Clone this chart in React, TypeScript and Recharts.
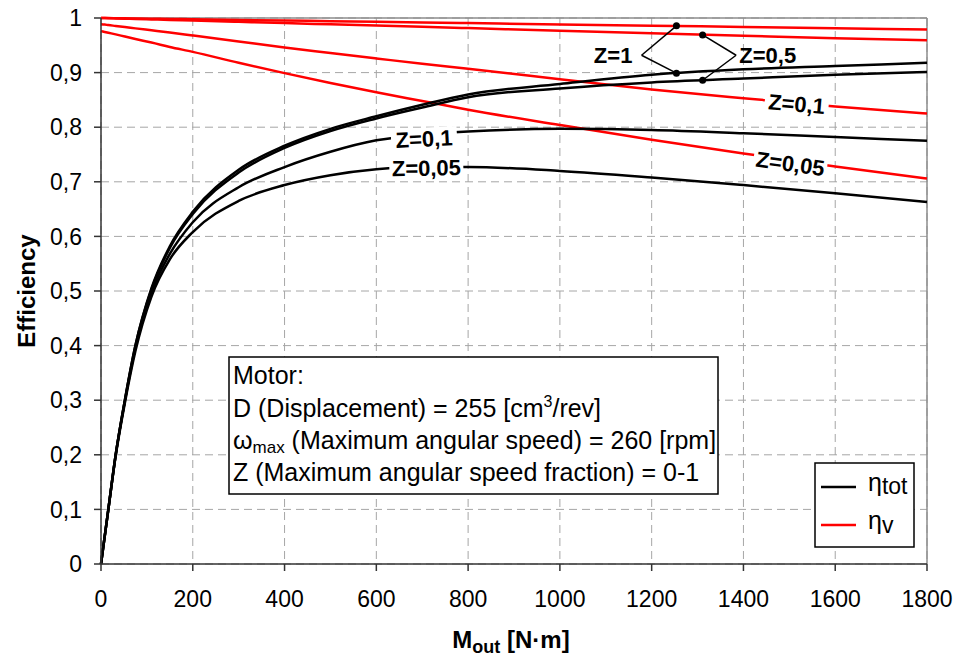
import React from 'react';
import {
  LineChart,
  Line,
  XAxis,
  YAxis,
  CartesianGrid,
  ReferenceLine,
  ReferenceDot,
  Customized
} from 'recharts';

const FONT = '"Liberation Sans", Arial, Helvetica, sans-serif';

// M_out [N·m] sample points
const torque = [0, 8, 16, 32, 52, 75, 110, 150, 200, 300, 400, 500, 600, 700, 800, 1000, 1200, 1400, 1600, 1800];

// eta_tot for each Z
const totZ1 = [0, 0.05, 0.1, 0.2, 0.3, 0.4, 0.505, 0.582, 0.645, 0.722, 0.766, 0.797, 0.82, 0.841, 0.86, 0.879, 0.896, 0.906, 0.912, 0.918];
const totZ05 = [0, 0.05, 0.1, 0.2, 0.3, 0.4, 0.503, 0.579, 0.641, 0.717, 0.762, 0.793, 0.816, 0.836, 0.855, 0.871, 0.882, 0.889, 0.896, 0.901];
const totZ01 = [0, 0.05, 0.1, 0.2, 0.298, 0.396, 0.497, 0.568, 0.626, 0.69, 0.727, 0.755, 0.776, 0.786, 0.792, 0.797, 0.795, 0.789, 0.782, 0.775];
const totZ005 = [0, 0.05, 0.1, 0.198, 0.295, 0.39, 0.49, 0.558, 0.608, 0.665, 0.694, 0.712, 0.723, 0.727, 0.727, 0.72, 0.708, 0.694, 0.679, 0.663];

// eta_v for each Z
const volZ1 = [1.0, 1.0, 0.9998, 0.9996, 0.9994, 0.9991, 0.9987, 0.9982, 0.9977, 0.9965, 0.9953, 0.9942, 0.993, 0.9918, 0.9907, 0.9883, 0.986, 0.9837, 0.9813, 0.979];
const volZ05 = [1.0, 0.9998, 0.9996, 0.9993, 0.9988, 0.9983, 0.9974, 0.9965, 0.9954, 0.993, 0.9907, 0.9884, 0.9861, 0.9838, 0.9815, 0.9768, 0.9722, 0.9676, 0.963, 0.9592];
const volZ01 = [0.9885, 0.988, 0.987, 0.9855, 0.9835, 0.981, 0.9775, 0.9735, 0.968, 0.957, 0.946, 0.936, 0.926, 0.916, 0.907, 0.888, 0.869, 0.853, 0.838, 0.825];
const volZ005 = [0.976, 0.9745, 0.973, 0.97, 0.966, 0.9615, 0.955, 0.947, 0.938, 0.918, 0.899, 0.881, 0.864, 0.848, 0.832, 0.804, 0.777, 0.752, 0.728, 0.706];

const xTicks = [0, 200, 400, 600, 800, 1000, 1200, 1400, 1600, 1800];
const yTicks = [0, 0.1, 0.2, 0.3, 0.4, 0.5, 0.6, 0.7, 0.8, 0.9, 1];

const chartData = torque.map((m, i) => ({
  m,
  totZ1: totZ1[i],
  totZ05: totZ05[i],
  totZ01: totZ01[i],
  totZ005: totZ005[i],
  volZ1: volZ1[i],
  volZ05: volZ05[i],
  volZ01: volZ01[i],
  volZ005: volZ005[i]
}));

// text label on a curve, white box behind it so the line looks broken
const CurveLabel = ({ cx, cy, text, angle = 0, w = 64, boxed = true, anchor = 'middle' }: any) => (
  <g transform={`translate(${cx},${cy}) rotate(${angle})`}>
    {boxed && <rect x={-w / 2} y={-11} width={w} height={22} fill="#fff" />}
    <text
      x={0}
      y={0}
      dy="0.36em"
      textAnchor={anchor}
      fontFamily={FONT}
      fontWeight="bold"
      fontSize={22}
      fill="#000"
    >
      {text}
    </text>
  </g>
);

const MotorBox = () => (
  <g fontFamily={FONT} fontSize={25} fill="#000">
    <rect x={229} y={357} width={489} height={137} fill="#fff" stroke="#000" strokeWidth={1.5} />
    <text x={233} y={384}>Motor:</text>
    <text x={233} y={417}>
      {'D (Displacement) = 255 [cm'}
      <tspan fontSize={16} dy={-10}>3</tspan>
      <tspan dy={10}>{'/rev]'}</tspan>
    </text>
    <text x={233} y={449}>
      {'ω'}
      <tspan fontSize={17} dy={4}>max</tspan>
      <tspan dy={-4}>{' (Maximum angular speed) = 260 [rpm]'}</tspan>
    </text>
    <text x={233} y={481}>Z (Maximum angular speed fraction) = 0-1</text>
  </g>
);

const LegendBox = () => (
  <g fontFamily={FONT} fill="#000">
    <rect x={815} y={463} width={99} height={84} fill="#fff" stroke="#000" strokeWidth={1.5} />
    <line x1={821} x2={856} y1={487} y2={487} stroke="#000" strokeWidth={2.5} />
    <line x1={821} x2={856} y1={525} y2={525} stroke="#ff0000" strokeWidth={2.5} />
    <text x={868} y={491} fontSize={25}>
      {'η'}
      <tspan fontSize={23} dy={3}>tot</tspan>
    </text>
    <text x={868} y={529} fontSize={25}>
      {'η'}
      <tspan fontSize={23} dy={4}>v</tspan>
    </text>
  </g>
);

const yTitle = () => (
  <text
    x={35}
    y={291}
    transform="rotate(-90 35 291)"
    textAnchor="middle"
    fontFamily={FONT}
    fontWeight="bold"
    fontSize={24}
    fill="#000"
  >
    Efficiency
  </text>
);

const xTitle = () => (
  <text x={511} y={648} textAnchor="middle" fontFamily={FONT} fontWeight="bold" fontSize={24} fill="#000">
    M
    <tspan fontSize={18} dy={5}>out</tspan>
    <tspan dy={-5}>{' [N·m]'}</tspan>
  </text>
);

const tickStyle = { fill: '#000', fontSize: 23, fontFamily: FONT };

export default function App() {
  return (
    <div style={{ position: 'absolute', left: 0, top: 0, background: '#fff' }}>
      <LineChart width={959} height={664} data={chartData} margin={{ top: 18, right: 32, left: 0, bottom: 0 }}>
        <CartesianGrid strokeDasharray="8 5" stroke="#a6a6a6" strokeWidth={1} />
        <XAxis
          type="number"
          dataKey="m"
          domain={[0, 1800]}
          ticks={xTicks}
          interval={0}
          tickSize={7}
          tickMargin={20}
          height={100}
          stroke="#333"
          strokeWidth={1.5}
          tick={tickStyle}
          label={xTitle}
        />
        <YAxis
          type="number"
          domain={[0, 1]}
          ticks={yTicks}
          interval={0}
          tickSize={7}
          tickMargin={12}
          width={101}
          stroke="#333"
          strokeWidth={1.5}
          tick={tickStyle}
          tickFormatter={(v: number) => String(v).replace('.', ',')}
          label={yTitle}
        />
        <ReferenceLine y={1} stroke="#8c8c8c" strokeWidth={1.5} />
        <ReferenceLine x={1800} stroke="#8c8c8c" strokeWidth={1.5} />

        <Line type="monotone" dataKey="volZ1" stroke="#ff0000" strokeWidth={2.5} dot={false} activeDot={false} isAnimationActive={false} />
        <Line type="monotone" dataKey="volZ05" stroke="#ff0000" strokeWidth={2.5} dot={false} activeDot={false} isAnimationActive={false} />
        <Line type="monotone" dataKey="volZ01" stroke="#ff0000" strokeWidth={2.5} dot={false} activeDot={false} isAnimationActive={false} />
        <Line type="monotone" dataKey="volZ005" stroke="#ff0000" strokeWidth={2.5} dot={false} activeDot={false} isAnimationActive={false} />
        <Line type="monotone" dataKey="totZ1" stroke="#000" strokeWidth={2.5} dot={false} activeDot={false} isAnimationActive={false} />
        <Line type="monotone" dataKey="totZ05" stroke="#000" strokeWidth={2.5} dot={false} activeDot={false} isAnimationActive={false} />
        <Line type="monotone" dataKey="totZ01" stroke="#000" strokeWidth={2.5} dot={false} activeDot={false} isAnimationActive={false} />
        <Line type="monotone" dataKey="totZ005" stroke="#000" strokeWidth={2.5} dot={false} activeDot={false} isAnimationActive={false} />

        {/* Z=1 / Z=0,5 callouts */}
        <ReferenceLine segment={[{ x: 1178, y: 0.9318 }, { x: 1254, y: 0.9857 }]} stroke="#000" strokeWidth={1.5} />
        <ReferenceLine segment={[{ x: 1178, y: 0.9318 }, { x: 1254, y: 0.899 }]} stroke="#000" strokeWidth={1.5} />
        <ReferenceLine segment={[{ x: 1384, y: 0.9318 }, { x: 1311, y: 0.969 }]} stroke="#000" strokeWidth={1.5} />
        <ReferenceLine segment={[{ x: 1384, y: 0.9318 }, { x: 1311, y: 0.886 }]} stroke="#000" strokeWidth={1.5} />
        <ReferenceDot x={1254} y={0.9857} r={3.5} fill="#000" stroke="none" />
        <ReferenceDot x={1254} y={0.899} r={3.5} fill="#000" stroke="none" />
        <ReferenceDot x={1311} y={0.969} r={3.5} fill="#000" stroke="none" />
        <ReferenceDot x={1311} y={0.886} r={3.5} fill="#000" stroke="none" />
        <ReferenceDot x={1158} y={0.9318} r={0} shape={(p: any) => <CurveLabel cx={p.cx} cy={p.cy} text="Z=1" boxed={false} anchor="end" />} />
        <ReferenceDot x={1391} y={0.9318} r={0} shape={(p: any) => <CurveLabel cx={p.cx} cy={p.cy} text="Z=0,5" boxed={false} anchor="start" />} />

        {/* labels on the curves */}
        <ReferenceDot x={1516} y={0.843} r={0} shape={(p: any) => <CurveLabel cx={p.cx} cy={p.cy} text="Z=0,1" angle={5} w={64} />} />
        <ReferenceDot x={1502} y={0.7336} r={0} shape={(p: any) => <CurveLabel cx={p.cx} cy={p.cy} text="Z=0,05" angle={8} w={74} />} />
        <ReferenceDot x={704} y={0.779} r={0} shape={(p: any) => <CurveLabel cx={p.cx} cy={p.cy} text="Z=0,1" angle={-3} w={66} />} />
        <ReferenceDot x={709} y={0.7256} r={0} shape={(p: any) => <CurveLabel cx={p.cx} cy={p.cy} text="Z=0,05" angle={-1} w={74} />} />

        <Customized component={<MotorBox />} />
        <Customized component={<LegendBox />} />
      </LineChart>
    </div>
  );
}
